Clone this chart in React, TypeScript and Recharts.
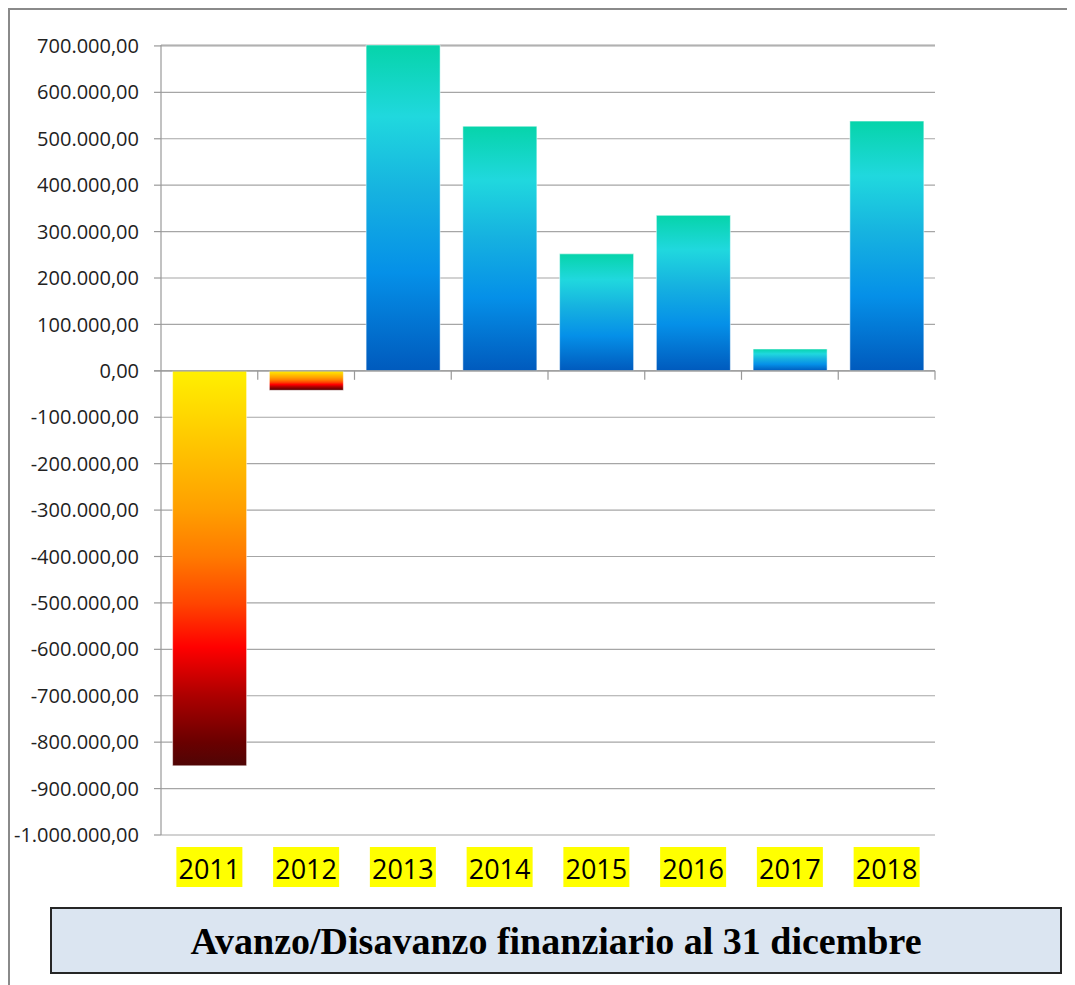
import { BarChart, Bar, XAxis, YAxis, CartesianGrid, Cell, ReferenceLine } from "recharts";

const years = ["2011", "2012", "2013", "2014", "2015", "2016", "2017", "2018"];
const saldo = [-851000, -42000, 702000, 527000, 252000, 335000, 47000, 538000];
const yTicks = [
  700000, 600000, 500000, 400000, 300000, 200000, 100000, 0, -100000, -200000, -300000, -400000,
  -500000, -600000, -700000, -800000, -900000, -1000000,
];

const data = years.map((year, i) => ({ year, value: saldo[i] }));

const formatIt = (v: number) =>
  v.toLocaleString("it-IT", { minimumFractionDigits: 2, maximumFractionDigits: 2, useGrouping: "always" } as any);

const YearTick = ({ x, y, payload }: any) => (
  <g>
    <rect x={x - 33} y={y + 12} width={66} height={40} fill="#FFFF00" />
    <text x={x} y={y + 44} textAnchor="middle" fontFamily="'Open Sans', sans-serif" fontSize={27} fill="#000">
      {payload.value}
    </text>
  </g>
);

// zero axis with the little category separators hanging below it
const ZeroLine = (props: any) => {
  const { x1, x2, y1 } = props;
  const step = (x2 - x1) / years.length;
  return (
    <g>
      <line x1={x1 - 7} y1={y1} x2={x2} y2={y1} stroke="#999" strokeWidth={1.2} />
      {years.map((_, i) => (
        <line key={i} x1={x1 + (i + 1) * step} y1={y1} x2={x1 + (i + 1) * step} y2={y1 + 9} stroke="#999" strokeWidth={1.2} />
      ))}
    </g>
  );
};

export default function App() {
  return (
    <div
      style={{
        position: "relative",
        width: 1067,
        height: 977,
        borderTop: "2px solid #8a8a8a",
        borderLeft: "2px solid #8a8a8a",
        boxSizing: "border-box",
      }}
    >
      <div style={{ position: "absolute", left: 0, top: 0 }}>
        <BarChart width={1000} height={880} data={data} margin={{ top: 35, right: 75, left: 0, bottom: 5 }} barCategoryGap="12%">
          <defs>
            <linearGradient id="neg" x1="0" y1="0" x2="0" y2="1">
              <stop offset="0" stopColor="#FFF000" />
              <stop offset="0.12" stopColor="#FFD500" />
              <stop offset="0.35" stopColor="#FF9F00" />
              <stop offset="0.47" stopColor="#FF7A00" />
              <stop offset="0.59" stopColor="#FF4400" />
              <stop offset="0.7" stopColor="#FF0000" />
              <stop offset="0.82" stopColor="#AE0000" />
              <stop offset="0.94" stopColor="#6A0000" />
              <stop offset="1" stopColor="#4F0505" />
            </linearGradient>
            <linearGradient id="pos" x1="0" y1="0" x2="0" y2="1">
              <stop offset="0" stopColor="#06D4AA" />
              <stop offset="0.22" stopColor="#20D8DE" />
              <stop offset="0.45" stopColor="#16B2E0" />
              <stop offset="0.7" stopColor="#0590E8" />
              <stop offset="1" stopColor="#005ABD" />
            </linearGradient>
          </defs>
          <CartesianGrid vertical={false} stroke="#a6a6a6" strokeWidth={1.2} />
          <XAxis
            dataKey="year"
            axisLine={false}
            tickLine={false}
            tickSize={0}
            tickMargin={0}
            height={50}
            interval={0}
            tick={<YearTick />}
          />
          <YAxis
            domain={[-1000000, 700000]}
            ticks={yTicks}
            interval={0}
            width={151}
            tickSize={7}
            tickMargin={15}
            tickFormatter={formatIt}
            axisLine={{ stroke: "#999", strokeWidth: 1.2 }}
            tickLine={{ stroke: "#999", strokeWidth: 1.2 }}
            tick={{ fontFamily: "'Open Sans', sans-serif", fontSize: 20, fill: "#222" }}
          />
          <Bar dataKey="value" isAnimationActive={false} stroke="#ffffff" strokeOpacity={0.5}>
            {data.map((entry, index) => (
              <Cell key={`cell-${index}`} fill={entry.value < 0 ? "url(#neg)" : "url(#pos)"} />
            ))}
          </Bar>
          <ReferenceLine y={0} shape={<ZeroLine />} />
        </BarChart>
      </div>
      <div
        style={{
          position: "absolute",
          left: 40,
          top: 897,
          width: 1012,
          height: 67,
          boxSizing: "border-box",
          border: "2px solid #262626",
          background: "#DBE5F1",
          display: "flex",
          alignItems: "center",
          justifyContent: "center",
          fontFamily: "'Liberation Serif', 'Times New Roman', serif",
          fontWeight: "bold",
          fontSize: 38,
          color: "#000",
        }}
      >
        Avanzo/Disavanzo finanziario al 31 dicembre
      </div>
    </div>
  );
}
